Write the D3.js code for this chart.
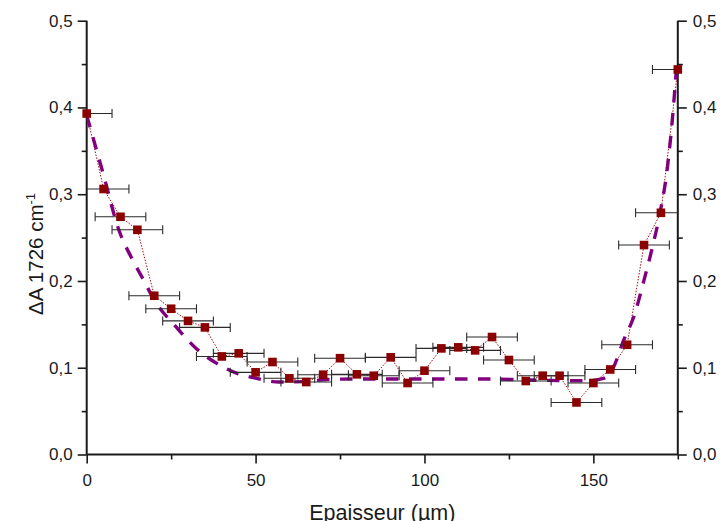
<!DOCTYPE html>
<html><head><meta charset="utf-8">
<script src="https://cdn.jsdelivr.net/npm/d3@7"></script>
<style>body{margin:0;background:#fff}svg{display:block}text{font-family:"Liberation Sans",Arial,sans-serif;fill:#1a1a1a}</style>
</head><body><svg id="c" width="720" height="521"></svg>
<script>
const thickness = [0,5,10,15,20,25,30,35,40,45,50,55,60,65,70,75,80,85,90,95,100,105,110,115,120,125,130,135,140,145,150,155,160,165,170,175];
const deltaA = [0.393,0.306,0.274,0.259,0.183,0.168,0.154,0.1465,0.113,0.1166,0.0947,0.1066,0.0878,0.0835,0.092,0.111,0.0924,0.0908,0.112,0.0824,0.0966,0.1223,0.1235,0.120,0.1354,0.1089,0.0847,0.0908,0.0908,0.060,0.0824,0.098,0.1265,0.2414,0.2786,0.4438];
const xErr = 7.5;
const fitX = [0,5,9.5,13.5,17,20,26.5,32.5,38.5,44.5,50,57,65,71,80,100,120,131,148,153,156,159,162,165,167.3,169.7,171.7,173.2,174.5];
const fitY = [0.391,0.322,0.259,0.225,0.200,0.178,0.147,0.122,0.105,0.0935,0.088,0.0835,0.084,0.0865,0.087,0.087,0.087,0.0858,0.085,0.0878,0.101,0.132,0.159,0.201,0.236,0.278,0.324,0.378,0.44];
const xMajor = [0,50,100,150];
const xMinor = [25,75,125,175];
const yMajor = [0,0.1,0.2,0.3,0.4,0.5];
const yMinor = [0.05,0.15,0.25,0.35,0.45];
const xTitle = "Epaisseur (µm)";

const svg = d3.select("#c");
const L = 86.7, R = 677.8, T = 20.7, B = 454.5;
const x = d3.scaleLinear().domain([0,175]).range([L,R]);
const y = d3.scaleLinear().domain([0,0.5]).range([B,T]);
const fmt = d => d3.format(".1f")(d).replace(".", ",");

svg.append("defs").append("clipPath").attr("id","clip")
  .append("rect").attr("x",L).attr("y",T-10).attr("width",R-L).attr("height",B-T+10);

const axisColor = "#1a1a1a";
function styleAxis(g){
  g.select(".domain").remove();
  g.selectAll("line").attr("stroke",axisColor).attr("stroke-width",1.6);
  g.selectAll("text").style("font-size","17px").attr("fill","#1a1a1a");
}
// x axis
const gx = svg.append("g").attr("transform",`translate(0,${B})`);
gx.call(d3.axisBottom(x).tickValues(xMajor).tickFormat(d3.format("d")).tickSize(9).tickPadding(10)).call(styleAxis);
gx.append("g").call(d3.axisBottom(x).tickValues(xMinor).tickFormat("").tickSize(5)).call(styleAxis);
// y left
const gy = svg.append("g").attr("transform",`translate(${L},0)`);
gy.call(d3.axisLeft(y).tickValues(yMajor).tickFormat(fmt).tickSize(9).tickPadding(5)).call(styleAxis);
gy.append("g").call(d3.axisLeft(y).tickValues(yMinor).tickFormat("").tickSize(5)).call(styleAxis);
// y right
const gr = svg.append("g").attr("transform",`translate(${R},0)`);
gr.call(d3.axisRight(y).tickValues(yMajor).tickFormat(fmt).tickSize(9).tickPadding(6)).call(styleAxis);
gr.append("g").call(d3.axisRight(y).tickValues(yMinor).tickFormat("").tickSize(5)).call(styleAxis);
// axis lines
svg.append("line").attr("x1",L).attr("x2",R).attr("y1",B).attr("y2",B).attr("stroke",axisColor).attr("stroke-width",2);
svg.append("line").attr("x1",L).attr("x2",L).attr("y1",T).attr("y2",B).attr("stroke",axisColor).attr("stroke-width",2);
svg.append("line").attr("x1",R).attr("x2",R).attr("y1",T).attr("y2",B).attr("stroke",axisColor).attr("stroke-width",2);

const data = thickness.map((t,i)=>({x:t,y:deltaA[i]}));
const plot = svg.append("g").attr("clip-path","url(#clip)");

// connecting line
plot.append("path").datum(data)
  .attr("d", d3.line().x(d=>x(d.x)).y(d=>y(d.y)))
  .attr("fill","none").attr("stroke","#a01010").attr("stroke-width",1).attr("stroke-dasharray","1.5,1.5");

// fit curve
const fit = fitX.map((v,i)=>({x:v,y:fitY[i]}));
plot.append("path").datum(fit)
  .attr("d", d3.line().curve(d3.curveMonotoneX).x(d=>x(d.x)).y(d=>y(d.y)))
  .attr("fill","none").attr("stroke","#800080").attr("stroke-width",3.4).attr("stroke-dasharray","12.5,10.5");

// error bars
const eb = plot.append("g").attr("stroke","#2a2a2a").attr("stroke-width",1.1);
data.forEach(d=>{
  const yy = y(d.y), x0 = x(d.x-xErr), x1 = x(d.x+xErr);
  eb.append("line").attr("x1",x0).attr("x2",x1).attr("y1",yy).attr("y2",yy);
  eb.append("line").attr("x1",x0).attr("x2",x0).attr("y1",yy-4.5).attr("y2",yy+4.5);
  eb.append("line").attr("x1",x1).attr("x2",x1).attr("y1",yy-4.5).attr("y2",yy+4.5);
});

// markers
const s = 8.6;
svg.append("g").selectAll("rect").data(data).join("rect")
  .attr("x",d=>x(d.x)-s/2).attr("y",d=>y(d.y)-s/2).attr("width",s).attr("height",s)
  .attr("fill","#8b0000");

// titles
svg.append("text").attr("x",(L+R)/2).attr("y",520).attr("text-anchor","middle")
  .style("font-size","21.5px").text(xTitle);
const yt = svg.append("text").attr("transform","translate(43,254) rotate(-90)").attr("text-anchor","middle")
  .style("font-size","20.5px");
yt.append("tspan").text("ΔA 1726 cm");
yt.append("tspan").attr("dy",-8).style("font-size","13px").text("-1");
</script></body></html>
